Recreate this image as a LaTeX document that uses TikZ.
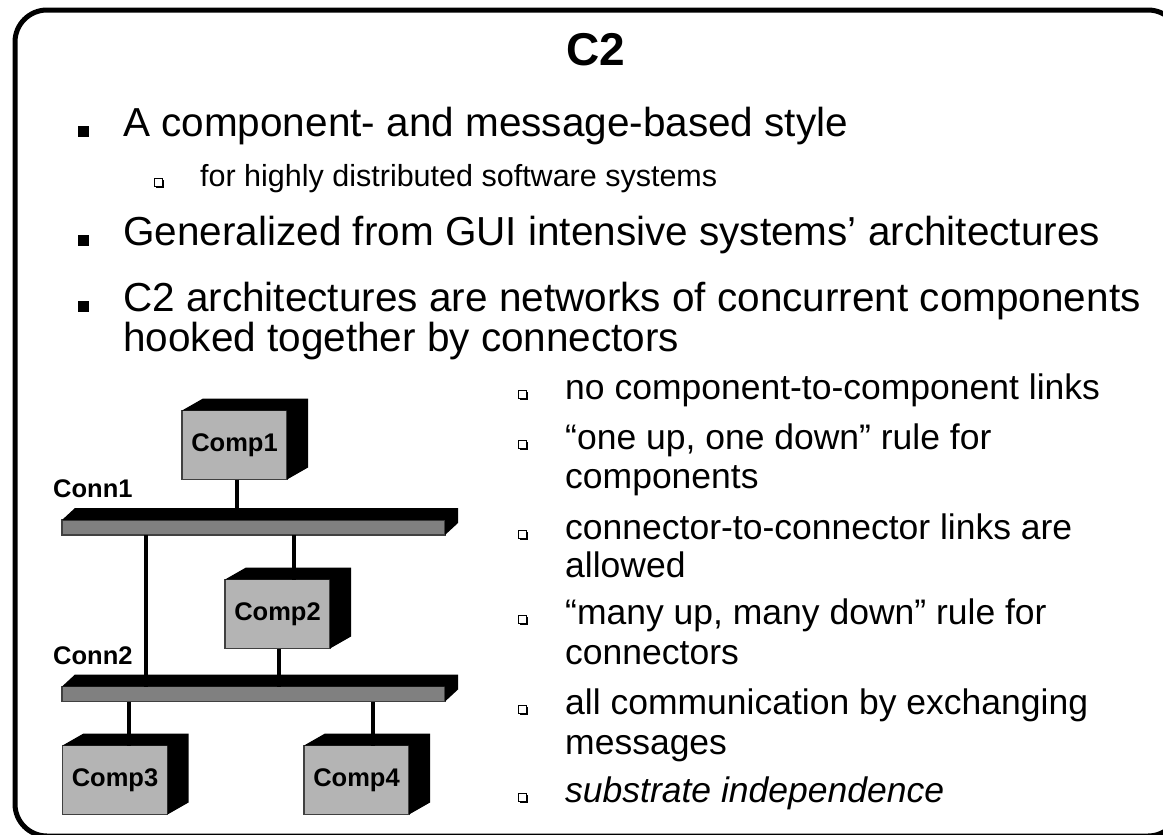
\documentclass[tikz,border=0pt]{standalone}
\usepackage{fontspec}
\setmainfont{Liberation Sans}
\usetikzlibrary{calc}

\definecolor{compgray}{RGB}{180,180,180}
\definecolor{bargray}{RGB}{128,128,128}

% black top and side faces of a solid drawn behind a front face node
\newcommand\solidfaces[3]{%
  \fill[black] (#1.north west) -- ($(#1.north west)+(#2,#3)$)
    -- ($(#1.north east)+(#2,#3)$) -- ($(#1.south east)+(#2,#3)$)
    -- (#1.south east) -- (#1.north east) -- cycle;}

\begin{document}
\begin{tikzpicture}[x=1pt,y=-1pt,
  line join=miter,
  maintext/.style={anchor=base west, inner sep=0pt, font=\fontsize{40.5}{44}\selectfont},
  subtext/.style={anchor=base west, inner sep=0pt, font=\fontsize{30.5}{34}\selectfont},
  listtext/.style={anchor=base west, inner sep=0pt, font=\fontsize{35.5}{39}\selectfont},
  comp/.style={rectangle, draw=black!75, line width=1.5, fill=compgray,
    minimum width=105, minimum height=69, inner sep=0pt, outer sep=0pt,
    font=\bfseries\fontsize{25.5}{28}\selectfont},
  conn/.style={rectangle, draw=black!75, line width=1.2, fill=bargray,
    minimum width=383, minimum height=15, inner sep=0pt, outer sep=0pt},
  connlabel/.style={anchor=base west, inner sep=0pt, font=\bfseries\fontsize{25.5}{28}\selectfont},
  link/.style={line width=4, draw=black},
  mainsq/.pic={\fill[black] (0,0) rectangle (10.5,10.5);},
  hsq/.pic={\fill[black] (1.6,1.6) rectangle (9.6,9.6);
            \filldraw[fill=white, draw=black, line width=0.9] (0,0) rectangle (8,8);}
]
\useasboundingbox (0,0) rectangle (1163,835);
\clip (0,0) rectangle (1163,835);
\fill[white] (0,0) rectangle (1163,835);

% slide frame
\draw[line width=5, rounded corners=32] (15,10) rectangle (1180,836);

% title
\node[anchor=base, inner sep=0pt, font=\bfseries\fontsize{46}{50}\selectfont] (title) at (596,65) {C2};

% top bullet list
\pic at (78,126) {mainsq};
\node[maintext] (l1) at (123,136) {A component- and message-based style};
\pic at (154,178) {hsq};
\node[subtext] (l2) at (200,186) {for highly distributed software systems};
\pic at (78,235) {mainsq};
\node[maintext] (l3) at (123,245) {Generalized from GUI intensive systems’ architectures};
\pic at (78,301) {mainsq};
\node[maintext] (l4) at (123,311) {C2 architectures are networks of concurrent components};
\node[maintext] (l5) at (123,351) {hooked together by connectors};

% rules beside the diagram
\pic at (518,390) {hsq};
\node[listtext] (r1) at (565,399) {no component-to-component links};
\pic at (518,440) {hsq};
\node[listtext] (r2a) at (565,449) {“one up, one down” rule for};
\node[listtext] (r2b) at (565,488) {components};
\pic at (518,530) {hsq};
\node[listtext] (r3a) at (565,539) {connector-to-connector links are};
\node[listtext] (r3b) at (565,577) {allowed};
\pic at (518,615) {hsq};
\node[listtext] (r4a) at (565,624) {“many up, many down” rule for};
\node[listtext] (r4b) at (565,664) {connectors};
\pic at (518,705) {hsq};
\node[listtext] (r5a) at (565,714) {all communication by exchanging};
\node[listtext] (r5b) at (565,754) {messages};
\pic at (518,793) {hsq};
\node[listtext, font=\itshape\fontsize{35.5}{39}\selectfont] (r6) at (565,802) {substrate independence};

% components and connectors
\node[comp] (comp1) at (234.5,445) {Comp1};
\node[comp] (comp2) at (277.5,614) {Comp2};
\node[comp] (comp3) at (115,780) {Comp3};
\node[comp] (comp4) at (356.5,780) {Comp4};
\node[conn] (conn1) at (253.5,527.5) {};
\node[conn] (conn2) at (253.5,694) {};
\solidfaces{comp1}{21}{-12}
\solidfaces{comp2}{21}{-12}
\solidfaces{comp3}{21}{-12}
\solidfaces{comp4}{21}{-12}
\solidfaces{conn1}{13}{-12}
\solidfaces{conn2}{13}{-12}

\node[connlabel] (conn1label) at (53,497) {Conn1};
\node[connlabel] (conn2label) at (53,664) {Conn2};

% links
\draw[link] ([xshift=2.5pt]comp1.south) -- ([xshift=2.5pt]comp1.south |- conn1.north);
\draw[link] ([xshift=16.5pt]comp2.north |- conn1.south) -- ([xshift=16.5pt]comp2.north);
\draw[link] ([xshift=-107.5pt]conn1.south) -- ([xshift=-107.5pt]conn2.north);
\draw[link] ([xshift=1.5pt]comp2.south) -- ([xshift=1.5pt]comp2.south |- conn2.north);
\draw[link] ([xshift=14pt]comp3.north |- conn2.south) -- ([xshift=14pt]comp3.north);
\draw[link] ([xshift=16.5pt]comp4.north |- conn2.south) -- ([xshift=16.5pt]comp4.north);
\end{tikzpicture}
\end{document}
